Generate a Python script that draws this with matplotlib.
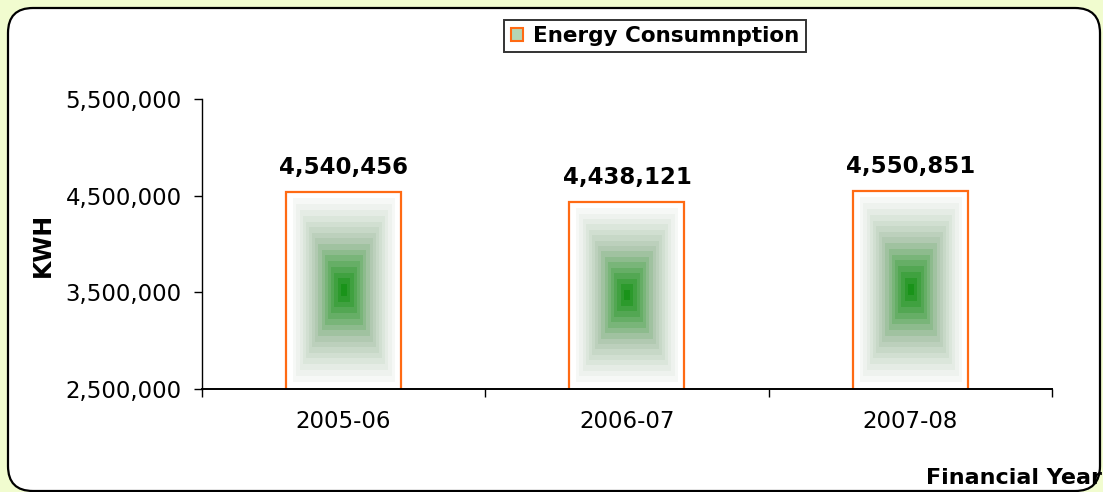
import numpy as np
import matplotlib.pyplot as plt
from matplotlib.patches import FancyBboxPatch, Rectangle
from matplotlib.ticker import FuncFormatter, FixedLocator

# datos
years = ['2005-06', '2006-07', '2007-08']
kwh = [4540456, 4438121, 4550851]
series_name = 'Energy Consumnption'

fig = plt.figure(figsize=(11.03, 4.92), dpi=100)
fig.patch.set_facecolor('#f1fccf')

# panel blanco con esquinas redondeadas
panel = FancyBboxPatch((0.28, 0.21), 10.52, 4.43,
                       boxstyle='round,pad=0.2,rounding_size=0.25',
                       transform=fig.dpi_scale_trans,
                       facecolor='white', edgecolor='black', linewidth=1.6, zorder=-5)
fig.patches.append(panel)

ax = fig.add_axes([0.1831, 0.2093, 0.7706, 0.5894])
ax.set_facecolor('none')
ymin, ymax = 2500000, 5500000

# degradado rectangular (verde al centro, blanco en los bordes)
def gradiente(n=240, niveles=16):
    u = np.linspace(-1, 1, n)
    xx, yy = np.meshgrid(u, u)
    t = np.maximum(np.abs(xx) / 0.88, np.abs(yy) / 0.93)
    s = np.clip(1 - t, 0, 1)
    s = np.ceil(s * niveles) / niveles
    blanco = np.array([0.99, 0.99, 0.99])
    medio = np.array([0.68, 0.78, 0.68])
    verde = np.array([0.10, 0.58, 0.10])
    corte = 0.52
    s3 = s[..., None]
    img = np.where(s3 < corte,
                   blanco + (medio - blanco) * (s3 / corte) ** 1.2,
                   medio + (verde - medio) * ((s3 - corte) / (1 - corte)))
    img[s == 0] = 1.0
    return img

img = gradiente()
ancho = 0.406
x = np.arange(len(years))
for xi, v in zip(x, kwh):
    ax.imshow(img, extent=[xi - ancho / 2, xi + ancho / 2, ymin, v],
              aspect='auto', interpolation='nearest', zorder=1)
ax.bar(x, kwh, width=ancho, facecolor='none', edgecolor='#ff6a13', linewidth=1.6, zorder=2)
ax.set_xlim(-0.5, len(years) - 0.5)
ax.set_ylim(ymin, ymax)

for xi, v in zip(x, kwh):
    ax.annotate(f'{v:,}', (xi, v), xytext=(0, 9), textcoords='offset points',
                ha='center', va='bottom', fontsize=16.5, fontweight='bold')

# ejes
for s in ['top', 'right']:
    ax.spines[s].set_visible(False)
ax.spines['left'].set_linewidth(1.0)
ax.spines['bottom'].set_linewidth(1.4)
ax.set_yticks([2500000, 3500000, 4500000, 5500000])
ax.yaxis.set_major_formatter(FuncFormatter(lambda v, p: f'{int(v):,}'))
ax.tick_params(axis='y', direction='out', length=6, width=1, labelsize=16.5, pad=8.5)
ax.set_xticks(x)
ax.set_xticklabels(years)
ax.tick_params(axis='x', which='major', length=0, labelsize=16.5, pad=15)
ax.xaxis.set_minor_locator(FixedLocator([-0.5, 0.5, 1.5, 2.5]))
ax.tick_params(axis='x', which='minor', direction='out', length=6, width=1)

fig.text(43 / 1103, 1 - 245 / 492, 'KWH', rotation=90, ha='center', va='center',
         fontsize=17, fontweight='bold')
fig.text(1102 / 1103, 1 - 478 / 492, 'Financial Year', ha='right', va='center',
         fontsize=16, fontweight='bold')

# leyenda
h = Rectangle((0, 0), 1, 1, facecolor='#b5d6b5', edgecolor='#ff6a13', linewidth=1.5)
leg = fig.legend([h], [series_name], loc='center', bbox_to_anchor=(655 / 1103, 1 - 36 / 492),
                 frameon=True, fancybox=False, edgecolor='black', handlelength=0.6,
                 handleheight=0.6, handletextpad=0.45, borderpad=0.3,
                 prop={'size': 15.5, 'weight': 'bold'})
leg.get_frame().set_linewidth(1.4)

fig.savefig('out.png', dpi=100, facecolor=fig.get_facecolor())
